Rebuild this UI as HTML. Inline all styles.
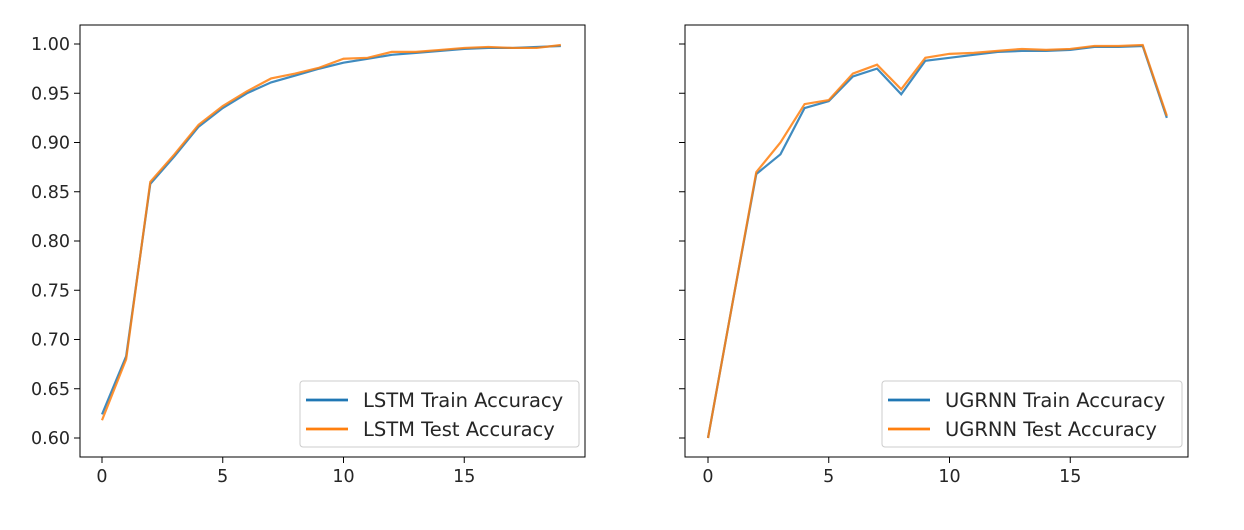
<!DOCTYPE html>
<html><head><meta charset="utf-8"><style>body{margin:0;background:#fff}svg text{font-family:"DejaVu Sans","Liberation Sans",sans-serif;font-size:17.5px;fill:#262626}</style></head>
<body>
<svg id="c" width="1244" height="525"></svg>
<script>
const epochs=[0,1,2,3,4,5,6,7,8,9,10,11,12,13,14,15,16,17,18,19];
const lstmTrain=[0.624,0.683,0.858,0.886,0.916,0.935,0.950,0.961,0.968,0.975,0.981,0.985,0.989,0.991,0.993,0.995,0.996,0.996,0.997,0.998];
const lstmTest=[0.618,0.680,0.860,0.888,0.918,0.937,0.952,0.965,0.970,0.976,0.985,0.986,0.992,0.992,0.994,0.996,0.997,0.996,0.996,0.999];
const ugTrain=[0.600,0.735,0.868,0.888,0.935,0.942,0.967,0.975,0.949,0.983,0.986,0.989,0.992,0.993,0.993,0.994,0.997,0.997,0.998,0.925];
const ugTest=[0.600,0.735,0.870,0.900,0.939,0.943,0.970,0.979,0.954,0.986,0.990,0.991,0.993,0.995,0.994,0.995,0.998,0.998,0.999,0.927];
const yTicks=[0.60,0.65,0.70,0.75,0.80,0.85,0.90,0.95,1.00];
const xTicks=[0,5,10,15];
const NS='http://www.w3.org/2000/svg',svg=document.getElementById('c');
function mk(t,a,p){const e=document.createElementNS(NS,t);for(const k in a)e.setAttribute(k,a[k]);(p||svg).appendChild(e);return e;}
const yS=v=>44+(1-v)/0.05*49.25;
function panel(L,R,x0,trainD,testD,names,name,showY){
  const g=mk('g',{});
  
  
  const xS=v=>x0+v*24.15;
  const top=25,bot=457;
  xTicks.forEach(t=>{mk('line',{x1:xS(t),x2:xS(t),y1:bot,y2:bot+6,stroke:'#000'},g);const tx=mk('text',{x:xS(t),y:bot+25,'text-anchor':'middle'},g);tx.textContent=t;});
  yTicks.forEach(t=>{mk('line',{x1:L-6,x2:L,y1:yS(t),y2:yS(t),stroke:'#000'},g);if(showY){const tx=mk('text',{x:L-10,y:yS(t)+6,'text-anchor':'end'},g);tx.textContent=t.toFixed(2);}});
  [[trainD,'#1f77b4'],[testD,'#ff7f0e']].forEach(([d,c],i)=>{const p=mk('polyline',{points:d.map((v,j)=>xS(epochs[j])+','+yS(v)).join(' '),fill:'none',stroke:c,'stroke-width':2.2,opacity:0.85},g);});
  mk('rect',{x:L,y:top,width:R-L,height:bot-top,fill:'none',stroke:'#000','stroke-width':1},g);
  const lg=mk('g',{},g);
  
  
  mk('rect',{x:names.lx,y:381,width:R-6-names.lx,height:66,rx:3,fill:'#fff',stroke:'#ccc'},lg);
  [['#1f77b4',names.a,400],['#ff7f0e',names.b,429]].forEach(([c,t,y])=>{mk('line',{x1:names.lx+6,x2:names.lx+48,y1:y,y2:y,stroke:c,'stroke-width':2.8},lg);const tx=mk('text',{x:names.lx+63,y:y+7},lg);tx.textContent=t;tx.style.fontSize='19.5px';});
}
panel(80,585,102,lstmTrain,lstmTest,{a:'LSTM Train Accuracy',b:'LSTM Test Accuracy',lx:300},'lstm-panel',true);
panel(685,1188,708,ugTrain,ugTest,{a:'UGRNN Train Accuracy',b:'UGRNN Test Accuracy',lx:882},'ugrnn-panel',false);
</script>
</body></html>
